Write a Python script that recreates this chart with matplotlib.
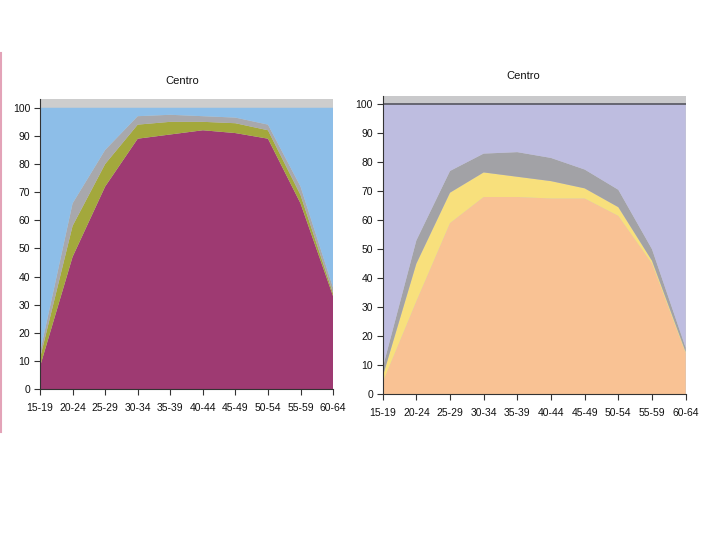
import numpy as np
import matplotlib.pyplot as plt
from matplotlib.lines import Line2D

plt.rcParams["font.family"] = ["Liberation Sans", "DejaVu Sans"]

age_groups = ["15-19", "20-24", "25-29", "30-34", "35-39",
              "40-44", "45-49", "50-54", "55-59", "60-64"]

# left panel: cumulative tops of each layer (%)
left_top_1 = [8, 47, 72, 89, 90.5, 92, 91, 89, 66, 33]
left_top_2 = [11, 58, 80, 94, 95, 95, 94.5, 92, 69, 34]
left_top_3 = [13, 66, 85, 97, 97.5, 97, 96.5, 94, 72, 36]

# right panel: cumulative tops of each layer (%)
right_top_1 = [4, 32, 59, 68, 68, 67.5, 67.5, 61.5, 45, 14]
right_top_2 = [6, 45, 69.5, 76.5, 75, 73.5, 71, 64.5, 46, 14.5]
right_top_3 = [9, 53, 77, 83, 83.5, 81.5, 77.5, 70.5, 50, 16]

total = 100
title = "Centro"


def layers(tops):
    tops = [np.asarray(t, dtype=float) for t in tops]
    out = [tops[0]]
    for a, b in zip(tops[:-1], tops[1:]):
        out.append(b - a)
    out.append(total - tops[-1])
    return out


def style_axes(ax, ymax, title_pad, title_x):
    ax.set_xlim(0, len(age_groups) - 1)
    ax.set_ylim(0, ymax)
    ax.set_yticks(range(0, 101, 10))
    ax.set_xticks(range(len(age_groups)))
    ax.set_xticklabels(age_groups)
    for s in ("top", "right"):
        ax.spines[s].set_visible(False)
    for s in ("left", "bottom"):
        ax.spines[s].set_color("#333333")
        ax.spines[s].set_linewidth(0.8)
    ax.tick_params(axis="both", labelsize=7.5, length=4, width=0.8,
                   color="#333333", labelcolor="#111111", pad=3)
    ax.tick_params(axis="x", pad=6)
    ax.set_title(title, fontsize=8, color="#111111", pad=title_pad, x=title_x)


fig = plt.figure(figsize=(7.2, 5.4), dpi=100)
fig.patch.set_facecolor("white")

x = np.arange(len(age_groups))

ax1 = fig.add_axes([0.0556, 0.2796, 0.407, 0.537])
ax1.set_facecolor("#CDCDCD")
ax1.stackplot(x, layers([left_top_1, left_top_2, left_top_3]),
              colors=["#9E3A72", "#A3A83C", "#A8A8AC", "#8DBEE8"],
              linewidth=0)
style_axes(ax1, 103.1, 11, 0.485)

ax2 = fig.add_axes([0.5315, 0.2704, 0.4208, 0.5519])
ax2.set_facecolor("#C9C9CB")
ax2.stackplot(x, layers([right_top_1, right_top_2, right_top_3]),
              colors=["#F9C294", "#F8E07C", "#A2A2A6", "#BEBDE0"],
              linewidth=0)
ax2.axhline(total, color="#555560", linewidth=1.2)
style_axes(ax2, 102.9, 12.5, 0.463)

# thin pink rule on the left edge
fig.add_artist(Line2D([0.002, 0.002], [1 - 53 / 540, 1 - 432 / 540],
                      transform=fig.transFigure, color="#E3A3B8", linewidth=1.5))

fig.savefig("out.png", dpi=100)
